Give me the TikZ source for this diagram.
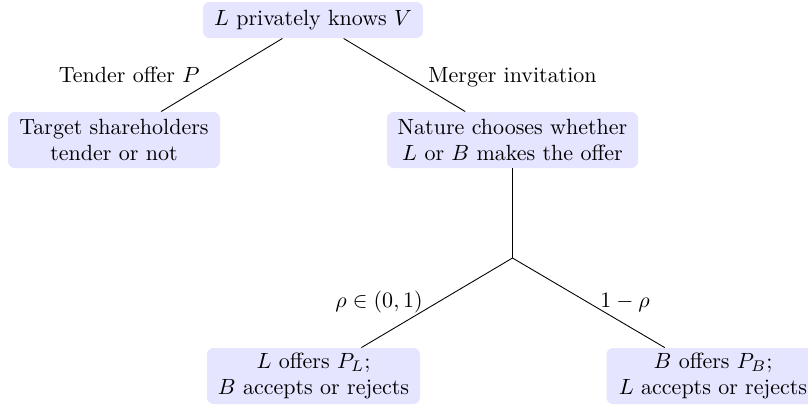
\documentclass[tikz,border=0pt]{standalone}
\usepackage{amsmath}
\begin{document}
\begin{tikzpicture}[x=0.4545pt,y=-0.4545pt,
  box/.style 2 args={fill=blue!10, draw=none, rounded corners=3pt, align=center,
    inner sep=0pt, minimum width=#1*0.4545pt, minimum height=#2*0.4545pt},
  lbl/.style={inner sep=0pt},
  edge/.style={draw=black, line width=0.4pt}]
\useasboundingbox (0,0) rectangle (808,406);
\node[box={220}{36}] (top) at (313,20) {$L$ privately knows $V$};
\node[box={212}{56}] (left) at (114,140) {Target shareholders\\tender or not};
\node[box={251}{56}] (nature) at (512.5,140) {Nature chooses whether\\$L$ or $B$ makes the offer};
\coordinate (chance) at (512.5,258);
\node[box={213}{56}] (bl) at (313.5,376) {$L$ offers $P_L$;\\$B$ accepts or rejects};
\node[box={213}{56}] (br) at (713,376) {$B$ offers $P_B$;\\$L$ accepts or rejects};
\draw[edge] (top) -- (left);
\draw[edge] (top) -- (nature);
\draw[edge] (nature) -- (chance);
\draw[edge] (chance) -- (bl);
\draw[edge] (chance) -- (br);
\node[lbl, anchor=base east] (ltender) at (200,82) {Tender offer $P$};
\node[lbl, anchor=base west] (lmerger) at (428,82) {Merger invitation};
\node[lbl, anchor=base west] (lrho) at (335,307) {$\rho\in(0,1)$};
\node[lbl, anchor=base west] (lone) at (600,307) {$1-\rho$};
\end{tikzpicture}
\end{document}
